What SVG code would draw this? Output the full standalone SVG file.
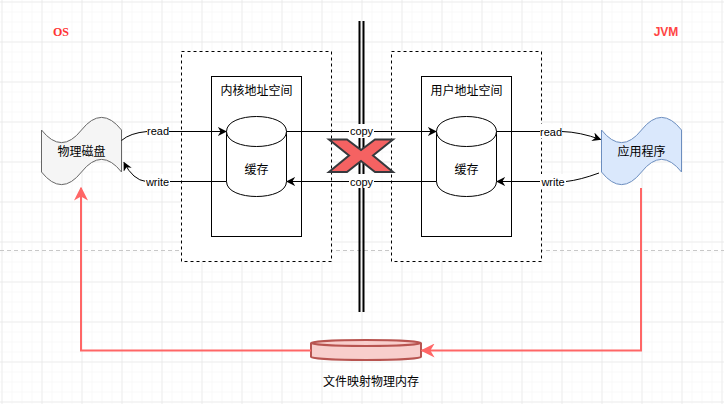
<svg xmlns="http://www.w3.org/2000/svg" width="724" height="404" viewBox="0 0 724 404">
<defs>
<pattern id="minor" x="1.5" y="1.5" width="10" height="10" patternUnits="userSpaceOnUse">
<path d="M0 0H10M0 0V10" fill="none" stroke="#f3f3f3" stroke-width="1"/>
</pattern>
<pattern id="major" x="1.5" y="1.5" width="40" height="40" patternUnits="userSpaceOnUse">
<path d="M0 0H40M0 0V40" fill="none" stroke="#e2e2e2" stroke-width="1"/>
</pattern>
<marker id="arr" viewBox="0 0 10 10" refX="9" refY="5" markerWidth="9" markerHeight="9" markerUnits="userSpaceOnUse" orient="auto">
<path d="M0,0 L10,5 L0,10 L3,5 z" fill="#000"/>
</marker>
<marker id="arrRed" viewBox="0 0 10 10" refX="9" refY="5" markerWidth="14" markerHeight="14" markerUnits="userSpaceOnUse" orient="auto">
<path d="M0,0 L10,5 L0,10 L3,5 z" fill="#ff6666"/>
</marker>
</defs>
<style>
.t{font-family:"Liberation Sans","Noto Sans CJK SC",sans-serif;font-size:12px;fill:#000;text-anchor:middle;dominant-baseline:central}
.lbl{font-family:"Liberation Sans",sans-serif;font-size:11px;fill:#000;text-anchor:middle;dominant-baseline:central}
.dash{fill:#fff;stroke:#000;stroke-width:1;stroke-dasharray:3 3}
.box{fill:#fff;stroke:#000;stroke-width:1}
.cyl{fill:#fff;stroke:#000;stroke-width:1}
.edge{fill:none;stroke:#000;stroke-width:1}
.red{fill:none;stroke:#ff6666;stroke-width:2}
.lblbg{fill:#fff}
</style>
<rect width="724" height="404" fill="#fff"/>
<rect width="724" height="404" fill="url(#minor)"/>
<rect width="724" height="404" fill="url(#major)"/>
<line x1="0" y1="250.5" x2="724" y2="250.5" stroke="#c8c8c8" stroke-width="1" stroke-dasharray="4 3"/>

<g id="os-label"><text x="61" y="32" font-family="Liberation Serif,serif" font-weight="bold" font-size="12" fill="#ff3333" text-anchor="middle" dominant-baseline="central">OS</text></g>
<g id="jvm-label"><text x="666" y="32" font-family="Liberation Sans,sans-serif" font-weight="bold" font-size="12" fill="#ff4444" text-anchor="middle" dominant-baseline="central">JVM</text></g>

<g id="kernel-space">
<rect class="dash" x="181.5" y="51.5" width="150" height="210"/>
<rect class="box" x="211.5" y="76.5" width="90" height="160"/>
<text class="t" x="256.5" y="91">内核地址空间</text>
</g>
<g id="user-space">
<rect class="dash" x="391.5" y="51.5" width="150" height="210"/>
<rect class="box" x="421.5" y="76.5" width="90" height="160"/>
<text class="t" x="466.5" y="91">用户地址空间</text>
</g>

<g id="divider">
<line x1="359.5" y1="21" x2="359.5" y2="312" stroke="#000" stroke-width="2"/>
<line x1="363.5" y1="21" x2="363.5" y2="312" stroke="#000" stroke-width="2"/>
</g>

<g id="kernel-cache">
<path class="cyl" d="M226.5,131.5 C226.5,111.5 286.5,111.5 286.5,131.5 L286.5,181.5 C286.5,201.5 226.5,201.5 226.5,181.5 Z"/>
<path class="cyl" fill="none" d="M226.5,131.5 C226.5,151.5 286.5,151.5 286.5,131.5"/>
<text class="t" x="256.5" y="170">缓存</text>
</g>
<g id="user-cache">
<path class="cyl" d="M436.5,131.5 C436.5,111.5 496.5,111.5 496.5,131.5 L496.5,181.5 C496.5,201.5 436.5,201.5 436.5,181.5 Z"/>
<path class="cyl" fill="none" d="M436.5,131.5 C436.5,151.5 496.5,151.5 496.5,131.5"/>
<text class="t" x="466.5" y="170">缓存</text>
</g>

<g id="disk">
<path d="M41.5,130 Q61.5,155.2 81.5,130 Q101.5,104.8 121.5,130 L121.5,172 Q101.5,146.8 81.5,172 Q61.5,197.2 41.5,172 Z" fill="#f5f5f5" stroke="#666666" stroke-width="1"/>
<text class="t" x="81.5" y="152" fill="#333">物理磁盘</text>
</g>
<g id="app">
<path d="M601.5,130 Q621.5,155.2 641.5,130 Q661.5,104.8 681.5,130 L681.5,172 Q661.5,146.8 641.5,172 Q621.5,197.2 601.5,172 Z" fill="#dae8fc" stroke="#6c8ebf" stroke-width="1"/>
<text class="t" x="641.5" y="152">应用程序</text>
</g>

<g id="mmap">
<path d="M311,343 A55,3 0 0 1 421,343 L421,357 A55,3 0 0 1 311,357 Z" fill="#f8cecc" stroke="#b85450" stroke-width="2"/>
<path d="M311,343 A55,3 0 0 0 421,343" fill="none" stroke="#b85450" stroke-width="2"/>
<text class="t" x="371" y="382">文件映射物理内存</text>
</g>

<g id="connectors">
<path class="edge" d="M121.5,140.5 Q130,133 147,131.5 L226,131.5" marker-end="url(#arr)"/>
<path class="edge" d="M226.5,181.5 L146,181.5 Q133,180 124,162.5" marker-end="url(#arr)"/>
<path class="edge" d="M286.5,131.5 L436,131.5" marker-end="url(#arr)"/>
<path class="edge" d="M436.5,181.5 L287,181.5" marker-end="url(#arr)"/>
<path class="edge" d="M496.5,131.5 L562,131.5 Q580,132 600.5,139.5" marker-end="url(#arr)"/>
<path class="edge" d="M599,173 Q580,180 566,181.5 L497,181.5" marker-end="url(#arr)"/>
<path class="red" d="M311,350.5 L81,350.5 L81,188" marker-end="url(#arrRed)"/>
<path class="red" d="M641,188 L641,350.5 L422,350.5" marker-end="url(#arrRed)"/>
<rect class="lblbg" x="147" y="124" width="22" height="14"/>
<text class="lbl" x="158" y="131">read</text>
<rect class="lblbg" x="145" y="174" width="25" height="14"/>
<text class="lbl" x="157.5" y="182">write</text>
<rect class="lblbg" x="349" y="124" width="25" height="14"/>
<text class="lbl" x="361.5" y="131">copy</text>
<rect class="lblbg" x="349" y="174" width="25" height="14"/>
<text class="lbl" x="361.5" y="182">copy</text>
<rect class="lblbg" x="540" y="124" width="22" height="14"/>
<text class="lbl" x="551" y="132">read</text>
<rect class="lblbg" x="540" y="174" width="26" height="14"/>
<text class="lbl" x="553" y="182">write</text>
</g>

<g id="blocked">
<path d="M329,139.5 L347,139.5 L361,150 L375,139.5 L393,139.5 L373,155.5 L393,172 L375,172 L361,161 L347,172 L329,172 L349,155.5 Z" fill="#f56262" stroke="#36393d" stroke-width="2" stroke-linejoin="miter"/>
</g>
</svg>
